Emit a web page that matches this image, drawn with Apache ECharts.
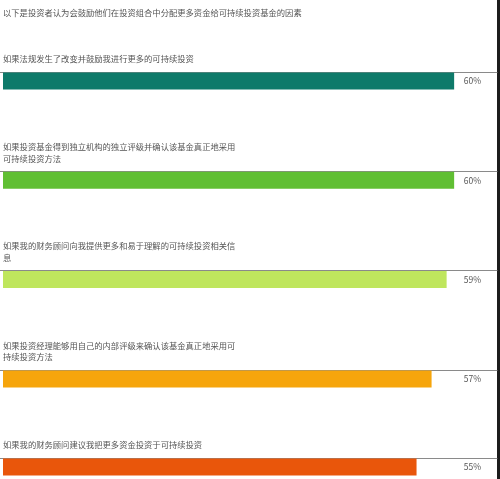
<!DOCTYPE html>
<html>
<head>
<meta charset="utf-8">
<script src="https://cdn.jsdelivr.net/npm/echarts@6/dist/echarts.min.js"></script>
<style>html,body{margin:0;padding:0;background:#fff;}#c{width:500px;height:479px;}</style>
</head>
<body>
<div id="c"></div>
<script>
var title = '以下是投资者认为会鼓励他们在投资组合中分配更多资金给可持续投资基金的因素';
var categories = [
  '如果法规发生了改变并鼓励我进行更多的可持续投资',
  '如果投资基金得到独立机构的独立评级并确认该基金真正地采用\n可持续投资方法',
  '如果我的财务顾问向我提供更多和易于理解的可持续投资相关信\n息',
  '如果投资经理能够用自己的内部评级来确认该基金真正地采用可\n持续投资方法',
  '如果我的财务顾问建议我把更多资金投资于可持续投资'
];
var values = [60, 60, 59, 57, 55];
var colors = ['#0e7a6a', '#60bf33', '#bfe65d', '#f6a50c', '#e9560b'];

(function () {
  var font = 'Noto Sans CJK SC';
  var grids = [], xAxes = [], yAxes = [], series = [];
  var gridTop = 72;
  for (var i = 0; i < values.length; i++) {
    var lines = categories[i].split('\n').length;
    if (i > 0) gridTop += 88 + 11.3 * (lines - 1);
    grids.push({left: 0, right: 3, top: gridTop, height: 18});
    xAxes.push({
      gridIndex: i, type: 'value', position: 'top', min: -0.4, max: 65.7,
      axisLine: {show: true, onZero: false, lineStyle: {color: '#8a8a8a', width: 1}},
      axisTick: {show: false}, axisLabel: {show: false}, splitLine: {show: false}
    });
    yAxes.push({
      gridIndex: i, type: 'category', data: [categories[i]],
      axisLine: {show: false}, axisTick: {show: false}, axisLabel: {show: false}
    });
    yAxes.push({
      gridIndex: i, type: 'category', position: 'right', data: [values[i] + '%'],
      axisLine: {show: false}, axisTick: {show: false},
      axisLabel: {show: true, inside: true, margin: 16, align: 'right',
        fontFamily: font, fontSize: 8.5, color: '#555'}
    });
    series.push({
      type: 'bar', xAxisIndex: i, yAxisIndex: i * 2,
      data: [values[i]], barWidth: 17,
      itemStyle: {color: colors[i]},
      label: {
        show: true, position: [0, -7.5], align: 'left', verticalAlign: 'bottom',
        formatter: '{b}', fontFamily: font, fontSize: 8.3, lineHeight: 11.5, color: '#555'
      },
      silent: true, animation: false
    });
  }

  var chart = echarts.init(document.getElementById('c'));
  chart.setOption({
    animation: false,
    title: {text: title, left: 3, top: 7, padding: 0,
      textStyle: {fontFamily: font, fontSize: 8.3, lineHeight: 11.5, fontWeight: 'normal', color: '#555'}},
    grid: grids, xAxis: xAxes, yAxis: yAxes, series: series,
    graphic: [{type: 'rect', right: 0, top: 0, shape: {width: 3, height: 479}, style: {fill: '#1c1c1c'}}]
  });
})();
</script>
</body>
</html>
